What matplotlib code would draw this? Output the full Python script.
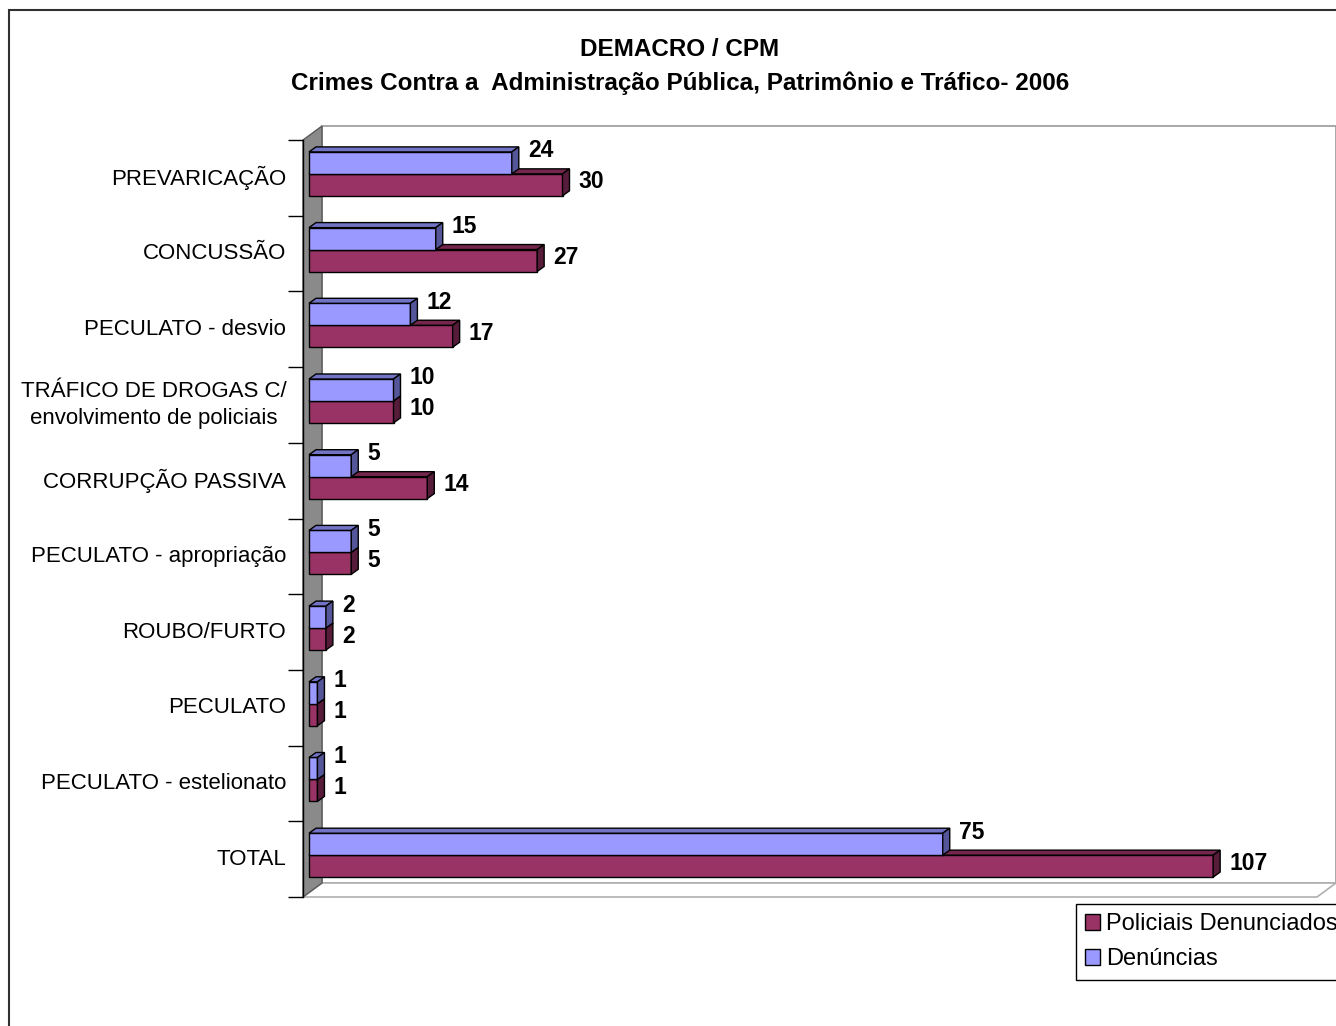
import numpy as np
import matplotlib
matplotlib.use('Agg')
import matplotlib.pyplot as plt
from matplotlib.patches import Polygon, Rectangle, Patch
from matplotlib.transforms import IdentityTransform, offset_copy

plt.rcParams['font.family'] = ['Liberation Sans', 'DejaVu Sans']

# dados (de cima para baixo)
categorias = [
    'PREVARICAÇÃO',
    'CONCUSSÃO',
    'PECULATO - desvio',
    'TRÁFICO DE DROGAS C/\nenvolvimento de policiais',
    'CORRUPÇÃO PASSIVA',
    'PECULATO - apropriação',
    'ROUBO/FURTO',
    'PECULATO',
    'PECULATO - estelionato',
    'TOTAL',
]
denuncias = [24, 15, 12, 10, 5, 5, 2, 1, 1, 75]
policiais = [30, 27, 17, 10, 14, 5, 2, 1, 1, 107]

cor_den = ('#9999FF', '#7373C6', '#55559A')   # frente, topo, lado
cor_pol = ('#993366', '#74264D', '#561C3A')

W, H = 1336, 1026
fig = plt.figure(figsize=(W / 100, H / 100), dpi=100)

# plano frontal da caixa 3D (pixels, origem no canto superior esquerdo)
p_esq, p_dir, p_top, p_base = 303, 1317, 140, 897
ax = fig.add_axes([p_esq / W, 1 - p_base / H,
                   (p_dir - p_esq) / W, (p_base - p_top) / H])
n = len(categorias)
xmax = 120
ax.set_xlim(0, xmax)
ax.set_ylim(n - 0.5, -0.5)
ax.set_autoscale_on(False)
ax.patch.set_visible(False)

bar_off = (6, 4)     # deslocamento da frente das barras (px direita, px cima)
bar_dep = (7, 5)     # profundidade das barras
wall_dep = (19, 14)  # profundidade das paredes
bh = 0.29            # altura de cada barra (unidades de categoria)


def px(x, y, d=(0, 0)):
    X, Y = ax.transData.transform((x, y))
    return (X + d[0], Y + d[1])


def face(pts, fc, ec='black', lw=1.0, z=2):
    ax.add_patch(Polygon(pts, closed=True, facecolor=fc, edgecolor=ec, lw=lw,
                         transform=IdentityTransform(), clip_on=False, zorder=z))


# paredes
y0, y1 = -0.5, n - 0.5
face([px(0, y0, wall_dep), px(xmax, y0, wall_dep),
      px(xmax, y1, wall_dep), px(0, y1, wall_dep)], 'white', '#9a9a9a', 1.2, 0.3)
face([px(0, y1), px(xmax, y1), px(xmax, y1, wall_dep), px(0, y1, wall_dep)],
     'white', '#b0b0b0', 1.2, 0.4)
face([px(0, y0), px(0, y0, wall_dep), px(0, y1, wall_dep), px(0, y1)],
     '#8a8a8a', '#5a5a5a', 1.0, 0.5)

tr_frente = offset_copy(ax.transData, fig=fig, x=bar_off[0], y=bar_off[1], units='dots')
tras = (bar_off[0] + bar_dep[0], bar_off[1] + bar_dep[1])

y = np.arange(n)
series = [(policiais, cor_pol, 0, 2, 7), (denuncias, cor_den, -bh, 3, 16)]
for vals, cores, desloc, z, dy_txt in series:
    ax.barh(y + desloc + bh / 2, vals, height=bh, color=cores[0],
            edgecolor='black', lw=1.0, transform=tr_frente, zorder=z)
    for i, v in enumerate(vals):
        yt = i + desloc
        yb = yt + bh
        face([px(0, yt, bar_off), px(v, yt, bar_off), px(v, yt, tras), px(0, yt, tras)],
             cores[1], z=z)
        face([px(v, yt, bar_off), px(v, yt, tras), px(v, yb, tras), px(v, yb, bar_off)],
             cores[2], z=z)
        ax.annotate(str(v), xy=(v, yt + bh / 2), xytext=(22, dy_txt),
                    textcoords='offset pixels', ha='left', va='center',
                    fontsize=16.5, fontweight='bold', zorder=5, annotation_clip=False)

# eixo de categorias
ax.set_yticks(y)
ax.set_yticklabels(categorias, fontsize=16, va='center')
ax.tick_params(axis='y', which='major', length=0, pad=12)
ax.set_yticks(np.arange(-0.5, n), minor=True)
ax.tick_params(axis='y', which='minor', length=11, width=1, direction='out')
rot = ax.get_yticklabels()[3]
rot.set_multialignment('center')
rot.set_linespacing(1.35)
ax.xaxis.set_visible(False)
for s in ['top', 'right', 'bottom']:
    ax.spines[s].set_visible(False)
ax.spines['left'].set_color('black')
ax.spines['left'].set_linewidth(1.0)

# titulo
fig.text(680 / W, 1 - 50 / H, 'DEMACRO / CPM', ha='center', va='center',
         fontsize=17.5, fontweight='bold')
fig.text(680 / W, 1 - 83 / H,
         'Crimes Contra a  Administração Pública, Patrimônio e Tráfico- 2006',
         ha='center', va='center', fontsize=17.5, fontweight='bold')

# legenda
handles = [Patch(facecolor=cor_pol[0], edgecolor='black', label='Policiais Denunciados'),
           Patch(facecolor=cor_den[0], edgecolor='black', label='Denúncias')]
leg = fig.legend(handles=handles, loc='upper left',
                 bbox_to_anchor=(1076 / W, 1 - 904 / H), bbox_transform=fig.transFigure,
                 frameon=True, fancybox=False, edgecolor='black', framealpha=1,
                 fontsize=17, handlelength=0.62, handleheight=0.62, handletextpad=0.25,
                 labelspacing=0.55, borderpad=0.4, borderaxespad=0)
leg.get_frame().set_linewidth(1.0)

# moldura externa
fig.add_artist(Rectangle((9 / W, -0.05), 1.2, 1 - 10 / H + 0.05,
                         transform=fig.transFigure, fill=False,
                         edgecolor='#303030', lw=1.5))

fig.savefig('out.png', dpi=100)
